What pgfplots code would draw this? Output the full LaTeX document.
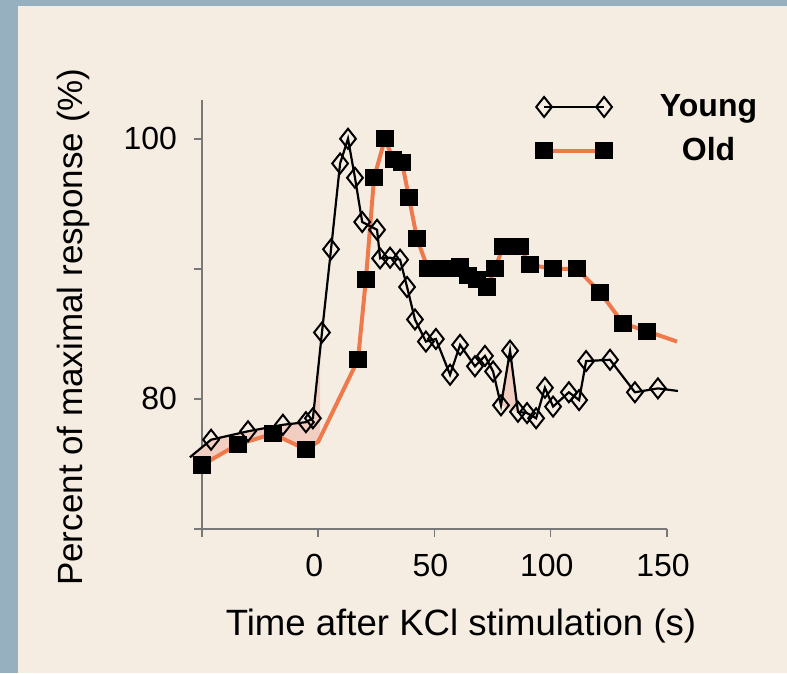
\documentclass[border=0pt]{standalone}
\usepackage{pgfplots}
\pgfplotsset{compat=1.18}
\usepgfplotslibrary{fillbetween}
\usepackage{fontspec}
\setmainfont{Liberation Sans}
\definecolor{bgblue}{RGB}{151,176,192}
\definecolor{beige}{RGB}{246,237,226}
\definecolor{oldorange}{RGB}{238,122,76}
\definecolor{pinkfill}{RGB}{242,206,194}
\definecolor{axisgray}{RGB}{120,120,120}
\begin{document}
\begin{tikzpicture}
\begin{axis}[
  scale only axis, width=232.5pt, height=214.5pt,
  xmin=-50, xmax=150, ymin=70, ymax=103,
  clip=false, set layers,
  axis lines=left, axis line style={-, axisgray, line width=0.75pt},
  every tick/.style={axisgray, line width=0.75pt},
  tick align=outside, major tick length=4pt,
  xtick={0,50,100,150}, extra x ticks={-50}, extra x tick labels={},
  ytick={80,100}, extra y ticks={70,90}, extra y tick labels={},
  /pgf/number format/assume math mode=true,
  ticklabel style={font=\fontsize{16}{19}\selectfont},
  xticklabel style={yshift=-5pt, xshift=-2pt},
  yticklabel style={xshift=-5pt},
  label style={font=\fontsize{17.5}{21}\selectfont},
  xlabel={Time after KCl stimulation (s)},
  ylabel={Percent of maximal response (\%)},
  xlabel style={at={(axis description cs:0.557,-0.2256)}, anchor=center, font=\fontsize{18.3}{22}\selectfont},
  ylabel style={at={(axis description cs:-0.277,0.47)}, anchor=center},
  legend style={draw=none, fill=none, at={(axis description cs:0.705,1.032)}, anchor=north west,
    font=\bfseries\fontsize{16}{19}\selectfont, row sep=5pt,
    /tikz/every odd column/.append style={column sep=22pt}},
  legend cell align=center,
  legend image code/.code={\draw[#1] plot coordinates {(0pt,0pt) (30pt,0pt)};},
]
\begin{pgfonlayer}{axis background}
\fill[bgblue] (rel axis cs:-0.4344,-0.3372) rectangle (rel axis cs:1.2581,1.2326);
\fill[beige] (rel axis cs:-0.3957,-0.3372) rectangle (rel axis cs:1.2581,1.2186);
\end{pgfonlayer}

\addlegendimage{black, line width=1.1pt, mark=diamond, mark size=5pt, mark options={solid, line width=1pt, xscale=1.05}}
\addlegendentry{Young}
\addlegendimage{oldorange, line width=2pt, mark=square*, mark size=3.3pt, mark options={solid, black, fill=black}}
\addlegendentry{Old}

\addplot[oldorange, line width=2pt, name path=old, forget plot,
  mark=square*, mark size=3.3pt, mark options={solid, black, fill=black},
  mark indices={1,2,3,4,6,7,8,9,10,11,12,13,14,15,16,17,18,19,20,21,22,23,24,25,26,27,28,29}]
coordinates {
(-50,74.9) (-34.5,76.5) (-19.5,77.3) (-5.3,76.1) (0,76.7) (17.1,83.0) (20.5,89.2)
(24.0,97.0) (28.7,100.0) (32.2,98.4) (36.0,98.2) (39.0,95.5) (42.5,92.3)
(47.2,90.0) (52.4,90.0) (57.5,90.0) (61.0,90.2) (64.4,89.5) (68.3,89.15)
(72.6,88.6) (76.0,90.0) (79.5,91.7) (86.8,91.7) (91.1,90.3) (101.0,90.0)
(111.3,90.0) (121.2,88.2) (131.1,85.8) (141.4,85.2) (154.3,84.4)
};

\addplot[draw=none, fill=pinkfill, forget plot] coordinates {(78.6,79.5) (82.5,83.7) (85.9,79.0)} -- cycle;

\addplot[black, line width=1.1pt, name path=young, forget plot,
  mark=diamond, mark size=5pt, mark options={solid, line width=1pt, xscale=1.05},
  mark indices={2,3,4,5,6,7,8,9,10,11,12,13,14,15,16,17,18,19,20,21,22,23,24,25,26,27,28,29,30,31,32,33,34,35,36,37,38}]
coordinates {
(-55.2,75.5) (-46.1,76.85) (-30.2,77.5) (-15.2,78.0) (-5.3,78.2) (-2.3,78.5)
(1.6,85.1) (5.5,91.5) (9.4,98.1) (12.8,100.0) (15.8,97.0) (18.9,93.6)
(25.3,93.0) (26.6,90.8) (30.9,90.85) (35.2,90.7) (38.2,88.6) (41.6,86.1)
(46.3,84.4) (50.6,84.6) (56.7,81.85) (61.0,84.15) (67.4,82.5) (71.7,83.3)
(75.2,82.1) (78.6,79.5) (82.5,83.7) (85.9,79.0) (89.8,78.9) (93.7,78.5)
(97.5,80.85) (101.0,79.4) (107.8,80.5) (112.2,79.9) (115.2,82.9) (125.5,83.0)
(136.2,80.5) (146.1,80.8) (154.7,80.6)
};

\addplot[pinkfill, forget plot] fill between[of=young and old, soft clip={domain=-60:0.8}];
\end{axis}
\end{tikzpicture}
\end{document}
